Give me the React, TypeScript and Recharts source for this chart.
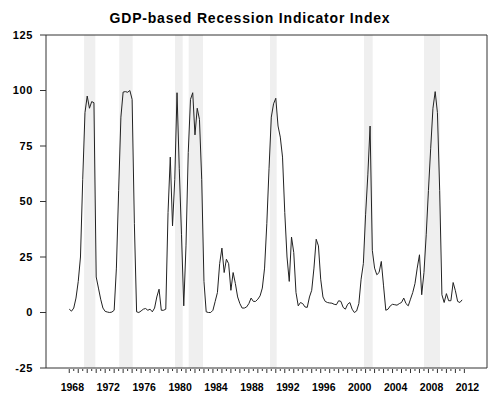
import React from 'react';
import { LineChart, Line, XAxis, YAxis, ReferenceArea } from 'recharts';

// Quarterly index values, starting 1968.25 (one value per quarter)
const startYear = 1968.25;
const indexValues: number[] = [
  1.5, 0.6, 2, 6.5, 14, 25, 60, 90, 97.5, 92,
  95, 94.5, 16, 11, 6, 2, 0.5, 0.2, 0, 0.2,
  1, 20, 55, 88, 99.3, 99.5, 99.2, 100, 96, 40,
  0.3, 0, 0.7, 1.5, 1.8, 1, 1.5, 0.3, 2, 7,
  10.5, 1, 1, 1.5, 45, 70, 39, 60, 99, 65,
  35, 3, 30, 72, 96, 99, 80, 92, 87, 60,
  14, 0.3, 0, 0, 1, 5, 9, 22, 29, 18,
  24, 22, 10, 18, 13, 7, 4, 2, 2, 2.5,
  4, 6.5, 5, 5, 6, 7.5, 11, 20, 40, 65,
  88, 94, 96.5, 84, 79, 70, 45, 25, 14, 34,
  27, 9, 3, 4.5, 4, 2.5, 2.3, 7, 10, 20,
  33, 30, 15, 7, 5, 4.5, 4.3, 4.2, 3.7, 3.5,
  5.3, 5, 2.3, 1.5, 3.7, 4.5, 1.5, 0, 0.7, 4,
  15, 22, 44, 62, 84, 28, 20, 17, 18, 23,
  12, 1, 1.5, 3, 3.7, 3.5, 3.3, 4, 4.5, 6.5,
  4, 3, 6, 9, 13, 20, 26, 8, 18, 35,
  55, 74, 92, 99.5, 90, 55, 8, 4.5, 8.5, 5.3,
  5.3, 13.5, 9.8, 5, 4.5, 5.7,
];

// Recession periods (decimal years)
const recessionStarts: number[] = [1969.9, 1973.82, 1980.02, 1981.55, 1990.6, 2001.07, 2007.75];
const recessionEnds: number[] = [1971.15, 1975.31, 1980.88, 1983.14, 1991.35, 2002.04, 2009.53];

const yTicks: number[] = [-25, 0, 25, 50, 75, 100, 125];
const xDomain: [number, number] = [1965.66, 2014.77];
const yDomain: [number, number] = [-25, 125];

const xTickValues: number[] = [];
for (let yr = 1968; yr <= 2012; yr++) {
  xTickValues.push(yr + 0.25);
  if (yr < 2012) xTickValues.push(yr + 0.75);
}

const data = indexValues.map((v, i) => ({ t: startYear + i * 0.25, v }));

const FONT = '"Liberation Sans", Arial, Helvetica, sans-serif';

const XTick = (props: any) => {
  const { x, y, payload } = props;
  const val: number = payload.value;
  const yr = Math.floor(val);
  const isYear = Math.abs(val - yr - 0.25) < 1e-6;
  const isLabel = isYear && yr % 4 === 0;
  return (
    <g>
      <line x1={x} x2={x} y1={y + 1} y2={y + (isYear ? 5 : 3)} stroke="#333" strokeWidth={1} />
      {isLabel && (
        <text x={x + 3.1} y={y + 23} textAnchor="middle" fontFamily={FONT} fontSize={10.5} fontWeight="bold" fill="#000">
          {String(yr)}
        </text>
      )}
    </g>
  );
};

export default function App() {
  return (
    <div style={{ position: 'absolute', left: 0, top: 0, width: 500, height: 399, background: '#fff' }}>
      <div
        style={{
          position: 'absolute',
          left: 0,
          top: 10.8,
          width: 500,
          textAlign: 'center',
          fontFamily: FONT,
          fontWeight: 'bold',
          fontSize: 14,
          lineHeight: '14px',
          letterSpacing: '0.8px',
          color: '#000',
        }}
      >
        GDP-based Recession Indicator Index
      </div>
      <LineChart width={500} height={399} data={data} margin={{ top: 35, right: 13, bottom: 0, left: 0 }}>
        {recessionStarts.map((s, k) => (
          <ReferenceArea key={k} x1={s} x2={recessionEnds[k]} fill="#efefef" fillOpacity={1} stroke="none" ifOverflow="hidden" />
        ))}
        <XAxis
          dataKey="t"
          type="number"
          domain={xDomain}
          ticks={xTickValues}
          interval={0}
          tickSize={0}
          tickMargin={0}
          tickLine={false}
          axisLine={false}
          height={31}
          tick={<XTick />}
          allowDataOverflow
        />
        <YAxis
          type="number"
          domain={yDomain}
          ticks={yTicks}
          interval={0}
          width={46}
          tickSize={6}
          tickMargin={7}
          axisLine={false}
          tickLine={{ stroke: '#333' }}
          tick={{ fontFamily: FONT, fontSize: 11, fontWeight: 'bold', fill: '#000', letterSpacing: '0.6px' }}
          allowDataOverflow
        />
        <Line type="linear" dataKey="v" stroke="#222" strokeWidth={1} dot={false} isAnimationActive={false} />
        <ReferenceArea x1={xDomain[0]} x2={xDomain[1]} y1={yDomain[0]} y2={yDomain[1]} fill="none" stroke="#333" strokeWidth={1} ifOverflow="visible" />
      </LineChart>
    </div>
  );
}
